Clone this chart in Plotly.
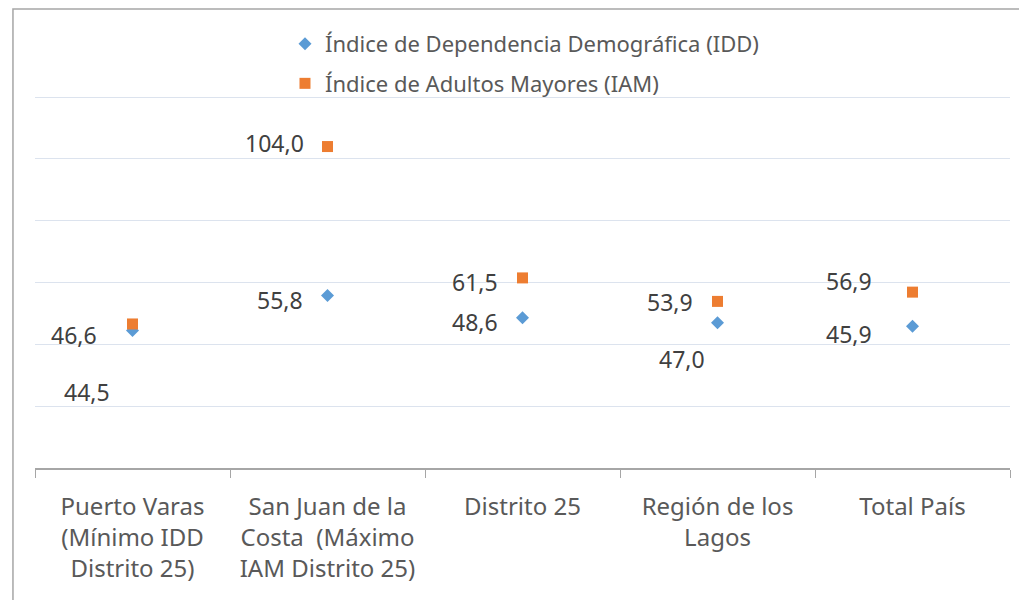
import plotly.graph_objects as go

categories = [
    "Puerto Varas<br>(Mínimo IDD<br>Distrito 25)",
    "San Juan de la<br>Costa  (Máximo<br>IAM Distrito 25)",
    "Distrito 25",
    "Región de los<br>Lagos",
    "Total País",
]
idd = [44.5, 55.8, 48.6, 47.0, 45.9]
iam = [46.6, 104.0, 61.5, 53.9, 56.9]

# label offsets (px) to mimic the hand-placed Excel data labels
idd_shift = [(-21, -62), (-23, -4), (-23, -4), (-11, -36), (-39, -8)]
iam_shift = [(-34, -11), (-22, 4), (-23, -4), (-23, -1), (-39, 11)]

FONT = "Noto Sans"
TXT = "#595959"

fig = go.Figure()
fig.add_trace(go.Scatter(
    x=categories, y=idd, mode="markers", name="Índice de Dependencia Demográfica (IDD)",
    legendgroup="a",
    marker=dict(symbol="diamond", size=10, color="#5B9BD5"),
))
fig.add_trace(go.Scatter(
    x=categories, y=iam, mode="markers", name="Índice de Adultos Mayores (IAM)",
    legendgroup="b",
    marker=dict(symbol="square", size=11, color="#ED7D31"),
))


def fmt(v):
    return f"{v:.1f}".replace(".", ",")


for vals, shifts in ((idd, idd_shift), (iam, iam_shift)):
    for c, v, (dx, dy) in zip(categories, vals, shifts):
        fig.add_annotation(
            x=c, y=v, text=fmt(v), showarrow=False,
            xanchor="right", yanchor="middle", xshift=dx, yshift=dy,
            font=dict(family=FONT, size=23, color="#404040"),
        )

# outer chart frame
fig.add_shape(type="rect", xref="paper", yref="paper",
              x0=-0.0226, x1=1.05, y0=-0.5, y1=1.227,
              line=dict(color="#A6A6A6", width=1.5), layer="below")

fig.update_xaxes(
    showgrid=False, showline=True, linecolor="#A6A6A6", linewidth=1.5,
    ticks="outside", tickson="boundaries", ticklen=8, tickcolor="#A6A6A6",
    ticklabelstandoff=16,
    tickfont=dict(family=FONT, size=24, color=TXT),
    range=[-0.5, 4.5],
)
fig.update_yaxes(
    range=[0, 121], dtick=20, showticklabels=False, zeroline=False,
    showgrid=True, gridcolor="#DCE3EE", gridwidth=1.2,
)
fig.update_layout(
    width=1027, height=600,
    margin=dict(l=27, r=25, t=86, b=140),
    plot_bgcolor="white", paper_bgcolor="white",
    showlegend=True,
    legend=dict(
        x=0.2564, y=1.19, xanchor="left", yanchor="top",
        orientation="v", tracegroupgap=8,
        font=dict(family=FONT, size=22, color=TXT),
        itemwidth=30, bgcolor="rgba(0,0,0,0)",
    ),
)

fig.write_html("out.html")
